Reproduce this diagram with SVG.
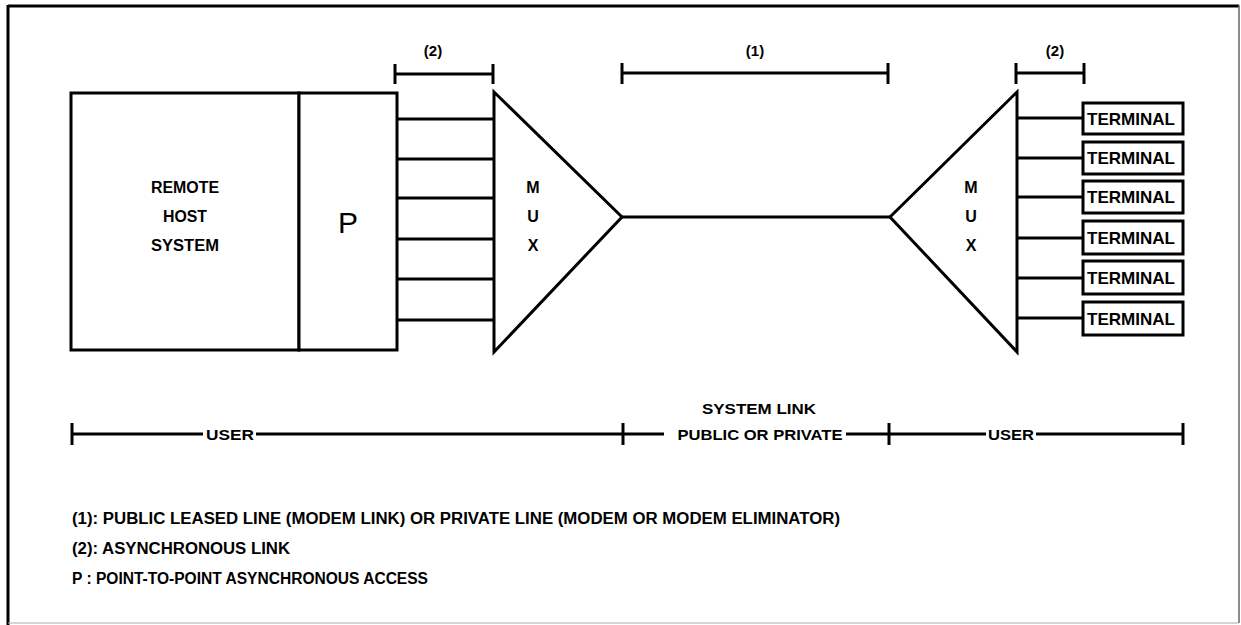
<svg xmlns="http://www.w3.org/2000/svg" width="1241" height="625" viewBox="0 0 1241 625">
  <style>
    .ln { stroke: #000; stroke-width: 3; fill: none; }
    .box { stroke: #000; stroke-width: 3; fill: #fff; }
    .t { font-family: "Liberation Sans", Arial, sans-serif; font-weight: bold; fill: #000; }
    .lbl { font-size: 15px; }
    .leg { font-size: 16px; }
    .big { font-size: 16px; }
    .mux { font-size: 16px; text-anchor: middle; }
    .term { font-size: 17px; }
  </style>
  <rect x="0" y="0" width="1241" height="625" fill="#fff"/>
  <g id="frame">
    <line x1="8" y1="6" x2="1239" y2="6" stroke="#000" stroke-width="3"/>
    <line x1="8" y1="5" x2="8" y2="625" stroke="#000" stroke-width="3"/>
    <line x1="1239" y1="5" x2="1239" y2="623" stroke="#666" stroke-width="1.5"/>
    <line x1="8" y1="623" x2="1239" y2="623" stroke="#aaa" stroke-width="1"/>
  </g>

  <g id="host">
    <rect class="box" x="71" y="93" width="228" height="257"/>
    <text class="t big" x="185" y="193" text-anchor="middle" textLength="68" lengthAdjust="spacingAndGlyphs">REMOTE</text>
    <text class="t big" x="185" y="222" text-anchor="middle" textLength="44" lengthAdjust="spacingAndGlyphs">HOST</text>
    <text class="t big" x="185" y="251" text-anchor="middle" textLength="68" lengthAdjust="spacingAndGlyphs">SYSTEM</text>
  </g>
  <g id="p-access">
    <rect class="box" x="299" y="93" width="98" height="257"/>
    <text x="348" y="233" font-family="Liberation Sans, Arial, sans-serif" font-size="30" text-anchor="middle">P</text>
  </g>

  <g id="mux-left">
    <polygon class="box" points="494,92 622,217 494,352"/>
    <text class="t mux" x="533" y="193">M</text>
    <text class="t mux" x="533" y="222">U</text>
    <text class="t mux" x="533" y="251">X</text>
  </g>
  <g id="mux-right">
    <polygon class="box" points="1017,92 890,217 1017,352"/>
    <text class="t mux" x="971" y="193">M</text>
    <text class="t mux" x="971" y="222">U</text>
    <text class="t mux" x="971" y="251">X</text>
  </g>

  <g id="terminal-1"><rect class="box" x="1083" y="103" width="100" height="31"/><text class="t term" x="1087" y="125" textLength="88" lengthAdjust="spacingAndGlyphs">TERMINAL</text></g>
  <g id="terminal-2"><rect class="box" x="1083" y="142" width="100" height="32"/><text class="t term" x="1087" y="164" textLength="88" lengthAdjust="spacingAndGlyphs">TERMINAL</text></g>
  <g id="terminal-3"><rect class="box" x="1083" y="181" width="100" height="32"/><text class="t term" x="1087" y="203" textLength="88" lengthAdjust="spacingAndGlyphs">TERMINAL</text></g>
  <g id="terminal-4"><rect class="box" x="1083" y="221" width="100" height="33"/><text class="t term" x="1087" y="244" textLength="88" lengthAdjust="spacingAndGlyphs">TERMINAL</text></g>
  <g id="terminal-5"><rect class="box" x="1083" y="261" width="100" height="33"/><text class="t term" x="1087" y="284" textLength="88" lengthAdjust="spacingAndGlyphs">TERMINAL</text></g>
  <g id="terminal-6"><rect class="box" x="1083" y="302" width="100" height="33"/><text class="t term" x="1087" y="325" textLength="88" lengthAdjust="spacingAndGlyphs">TERMINAL</text></g>

  <g id="connectors" class="ln">
    <line x1="397" y1="119" x2="494" y2="119"/>
    <line x1="397" y1="159" x2="494" y2="159"/>
    <line x1="397" y1="198" x2="494" y2="198"/>
    <line x1="397" y1="239" x2="494" y2="239"/>
    <line x1="397" y1="279" x2="494" y2="279"/>
    <line x1="397" y1="320" x2="494" y2="320"/>
    <line x1="622" y1="217" x2="890" y2="217"/>
    <line x1="1017" y1="118" x2="1083" y2="118"/>
    <line x1="1017" y1="158" x2="1083" y2="158"/>
    <line x1="1017" y1="197" x2="1083" y2="197"/>
    <line x1="1017" y1="238" x2="1083" y2="238"/>
    <line x1="1017" y1="278" x2="1083" y2="278"/>
    <line x1="1017" y1="318" x2="1083" y2="318"/>
  </g>

  <g id="dimensions">
    <g class="ln">
      <line x1="395" y1="74" x2="493" y2="74"/>
      <line x1="395" y1="64" x2="395" y2="84"/>
      <line x1="493" y1="64" x2="493" y2="84"/>
      <line x1="622" y1="73" x2="888" y2="73"/>
      <line x1="622" y1="63" x2="622" y2="84"/>
      <line x1="888" y1="63" x2="888" y2="84"/>
      <line x1="1016" y1="73" x2="1084" y2="73"/>
      <line x1="1016" y1="63" x2="1016" y2="84"/>
      <line x1="1084" y1="63" x2="1084" y2="84"/>
      <line x1="72" y1="434" x2="203" y2="434"/>
      <line x1="256" y1="434" x2="664" y2="434"/>
      <line x1="846" y1="434" x2="986" y2="434"/>
      <line x1="1036" y1="434" x2="1183" y2="434"/>
      <line x1="72" y1="423" x2="72" y2="445"/>
      <line x1="623" y1="423" x2="623" y2="445"/>
      <line x1="889" y1="423" x2="889" y2="445"/>
      <line x1="1183" y1="423" x2="1183" y2="445"/>
    </g>
    <text class="t lbl" x="433" y="56" text-anchor="middle">(2)</text>
    <text class="t lbl" x="755" y="56" text-anchor="middle">(1)</text>
    <text class="t lbl" x="1055" y="56" text-anchor="middle">(2)</text>
    <text class="t lbl" x="230" y="440" text-anchor="middle" textLength="48" lengthAdjust="spacingAndGlyphs">USER</text>
    <text class="t lbl" x="759" y="414" text-anchor="middle" textLength="114" lengthAdjust="spacingAndGlyphs">SYSTEM LINK</text>
    <text class="t lbl" x="760" y="440" text-anchor="middle" textLength="165" lengthAdjust="spacingAndGlyphs">PUBLIC OR PRIVATE</text>
    <text class="t lbl" x="1011" y="440" text-anchor="middle" textLength="46" lengthAdjust="spacingAndGlyphs">USER</text>
  </g>

  <g id="legend">
    <text class="t leg" x="72" y="524" textLength="768" lengthAdjust="spacingAndGlyphs">(1): PUBLIC LEASED LINE (MODEM LINK) OR PRIVATE LINE (MODEM OR MODEM ELIMINATOR)</text>
    <text class="t leg" x="72" y="554" textLength="218" lengthAdjust="spacingAndGlyphs">(2): ASYNCHRONOUS LINK</text>
    <text class="t leg" x="72" y="584" textLength="356" lengthAdjust="spacingAndGlyphs">P : POINT-TO-POINT ASYNCHRONOUS ACCESS</text>
  </g>
</svg>
